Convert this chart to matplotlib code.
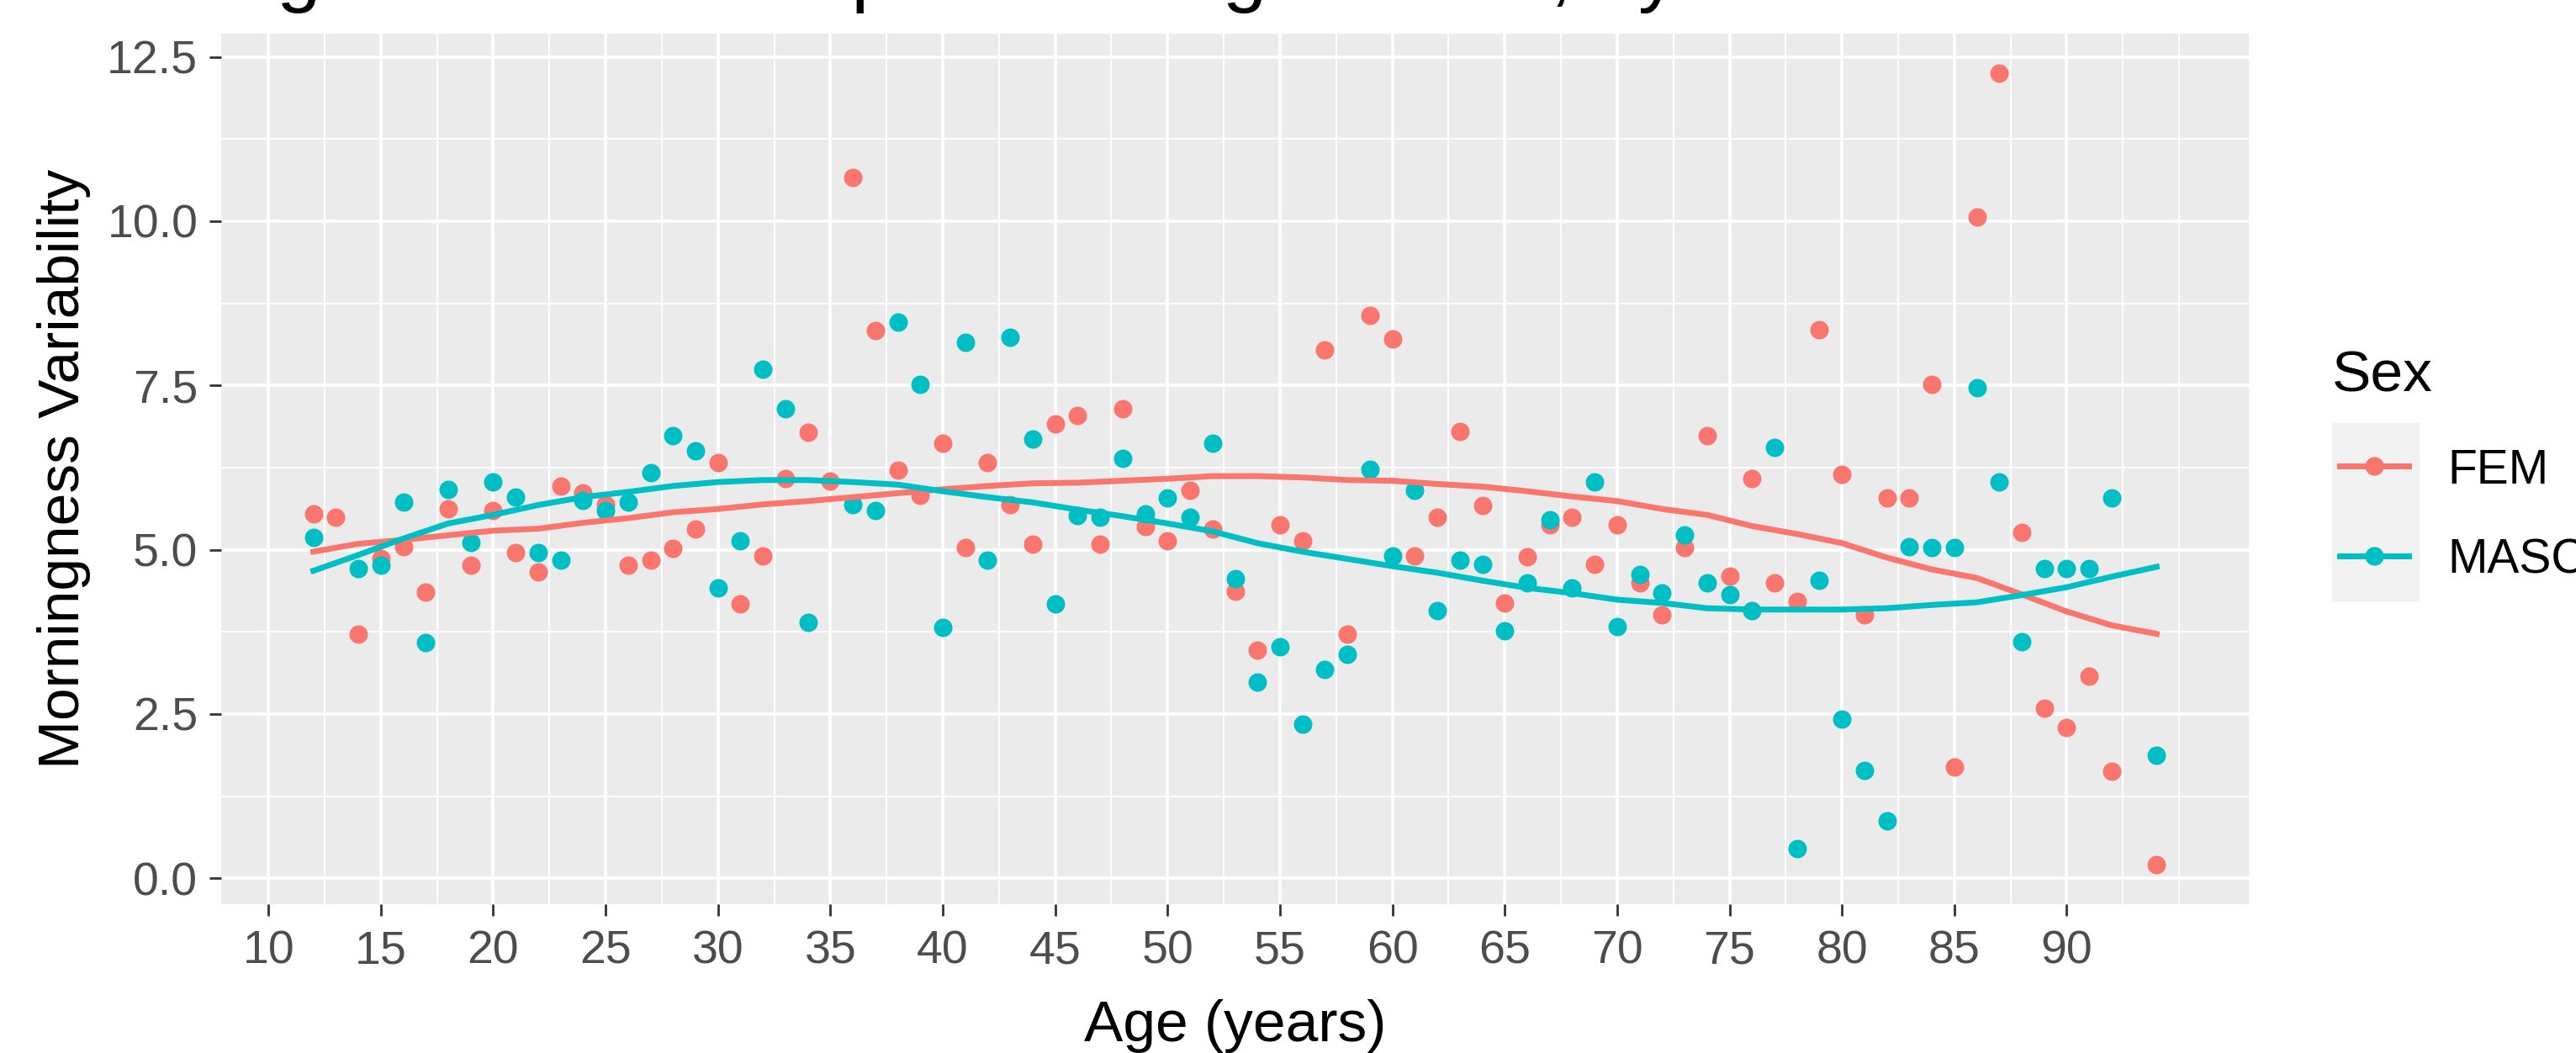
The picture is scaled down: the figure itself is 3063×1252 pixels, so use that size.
import numpy as np
import matplotlib
matplotlib.use('Agg')
import matplotlib.pyplot as plt
from matplotlib.lines import Line2D
from matplotlib.patches import Rectangle

plt.rcParams['font.family'] = ['Liberation Sans', 'DejaVu Sans']

# Mean morningness variability per age
fem_age = [12, 13, 14, 15, 16, 17, 18, 19, 20, 21, 22, 23, 24, 25, 26, 27, 28,
           29, 30, 31, 32, 33, 34, 35, 36, 37, 38, 39, 40, 41, 42, 43, 44, 45,
           46, 47, 48, 49, 50, 51, 52, 53, 54, 55, 56, 57, 58, 59, 60, 61, 62,
           63, 64, 65, 66, 67, 68, 69, 70, 71, 72, 73, 74, 75, 76, 77, 78, 79,
           80, 81, 82, 83, 84, 85, 86, 87, 88, 89, 90, 91, 92, 94]
fem_val = [5.55, 5.49, 3.71, 4.87, 5.04, 4.36, 5.62, 4.77, 5.60, 4.96, 4.66,
           5.97, 5.87, 5.68, 4.77, 4.84, 5.02, 5.31, 6.32, 4.18, 4.90, 6.08,
           6.79, 6.04, 10.66, 8.34, 6.21, 5.83, 6.62, 5.03, 6.32, 5.68, 5.08,
           6.91, 7.04, 5.08, 7.15, 5.35, 5.14, 5.91, 5.31, 4.37, 3.47, 5.38,
           5.14, 8.04, 3.71, 8.57, 8.21, 4.90, 5.49, 6.80, 5.67, 4.19, 4.89,
           5.38, 5.49, 4.78, 5.38, 4.49, 4.01, 5.03, 6.74, 4.60, 6.08, 4.49,
           4.22, 8.35, 6.15, 4.01, 5.79, 5.79, 7.52, 1.69, 10.06, 12.25, 5.27,
           2.59, 2.29, 3.07, 1.63, 0.21]

masc_age = [12, 14, 15, 16, 17, 18, 19, 20, 21, 22, 23, 24, 25, 26, 27, 28, 29,
            30, 31, 32, 33, 34, 36, 37, 38, 39, 40, 41, 42, 43, 44, 45, 46, 47,
            48, 49, 50, 51, 52, 53, 54, 55, 56, 57, 58, 59, 60, 61, 62, 63, 64,
            65, 66, 67, 68, 69, 70, 71, 72, 73, 74, 75, 76, 77, 78, 79, 80, 81,
            82, 83, 84, 85, 86, 87, 88, 89, 90, 91, 92, 94]
masc_val = [5.19, 4.72, 4.77, 5.73, 3.59, 5.92, 5.11, 6.03, 5.80, 4.96, 4.84,
            5.75, 5.60, 5.73, 6.17, 6.74, 6.50, 4.42, 5.13, 7.75, 7.15, 3.89,
            5.68, 5.60, 8.46, 7.51, 3.82, 8.16, 4.84, 8.23, 6.69, 4.18, 5.52,
            5.49, 6.39, 5.55, 5.79, 5.50, 6.62, 4.56, 2.99, 3.53, 2.35, 3.18,
            3.41, 6.23, 4.90, 5.90, 4.07, 4.84, 4.78, 3.77, 4.50, 5.45, 4.42,
            6.03, 3.83, 4.63, 4.34, 5.22, 4.49, 4.32, 4.08, 6.56, 0.45, 4.54,
            2.42, 1.64, 0.88, 5.04, 5.03, 5.03, 7.46, 6.03, 3.60, 4.72, 4.72,
            4.72, 5.79, 1.87]

# smoothed trend lines (loess from the original chart), read every 2 years
smooth_age = [12, 14, 16, 18, 20, 22, 24, 26, 28, 30, 32, 34, 36, 38, 40, 42,
              44, 46, 48, 50, 52, 54, 56, 58, 60, 62, 64, 66, 68, 70, 72, 74,
              76, 78, 80, 82, 84, 86, 88, 90, 92, 94]
fem_smooth = [4.97, 5.09, 5.15, 5.22, 5.29, 5.32, 5.41, 5.48, 5.57, 5.62, 5.69,
              5.74, 5.80, 5.86, 5.92, 5.97, 6.01, 6.02, 6.05, 6.08, 6.12, 6.12,
              6.10, 6.06, 6.05, 6.00, 5.96, 5.89, 5.81, 5.74, 5.62, 5.53, 5.36,
              5.24, 5.10, 4.88, 4.70, 4.57, 4.32, 4.06, 3.85, 3.72]
masc_smooth = [4.68, 4.92, 5.17, 5.40, 5.53, 5.68, 5.80, 5.88, 5.97, 6.03, 6.06,
               6.06, 6.03, 5.99, 5.89, 5.80, 5.72, 5.61, 5.51, 5.40, 5.28, 5.10,
               4.97, 4.86, 4.75, 4.65, 4.53, 4.42, 4.34, 4.24, 4.19, 4.11, 4.09,
               4.09, 4.09, 4.11, 4.16, 4.20, 4.31, 4.43, 4.59, 4.74]

groups = ['FEM', 'MASC']
colors = {'FEM': '#F8766D', 'MASC': '#00BFC4'}
data = {'FEM': (fem_age, fem_val, fem_smooth),
        'MASC': (masc_age, masc_val, masc_smooth)}

x_breaks = list(range(10, 95, 5))
y_breaks = [0.0, 2.5, 5.0, 7.5, 10.0, 12.5]

title = 'Age and Sex comparison of gradients, by Sex'
xlabel = 'Age (years)'
ylabel = 'Morningness Variability'
legend_title = 'Sex'

W, H = 3063, 1252
fig = plt.figure(figsize=(W / 100, H / 100), dpi=100)
ax = fig.add_axes([263 / W, 1 - 1075 / H, (2674 - 263) / W, (1075 - 40) / H])
ax.set_facecolor('#EBEBEB')
for s in ax.spines.values():
    s.set_visible(False)

for g in groups:
    a, v, sm = data[g]
    ax.scatter(a, v, s=250, color=colors[g], linewidths=0, zorder=3)
    ax.plot(smooth_age, sm, color=colors[g], lw=5, zorder=4)

# ggplot-like 5% expansion of the data range
all_age = fem_age + masc_age
all_val = fem_val + masc_val
xr = max(all_age) - min(all_age)
yr = max(all_val) - min(all_val)
ax.set_xlim(min(all_age) - 0.05 * xr, max(all_age) + 0.05 * xr)
ax.set_ylim(min(all_val) - 0.05 * yr, max(all_val) + 0.05 * yr)

ax.set_xticks(x_breaks)
ax.set_xticks([b + 2.5 for b in x_breaks[:-1]] + [92.5, 95], minor=True)
ax.set_yticks(y_breaks)
ax.set_yticklabels(['%.1f' % b for b in y_breaks])
ax.set_yticks([b + 1.25 for b in y_breaks[:-1]], minor=True)
ax.grid(which='major', color='white', lw=2.6)
ax.grid(which='minor', color='white', lw=1.3)
ax.set_axisbelow(True)
ax.tick_params(which='major', length=10, width=2, color='#333333',
               labelcolor='#4D4D4D', labelsize=40)
ax.tick_params(axis='x', pad=12)
ax.tick_params(axis='y', pad=10)
ax.tick_params(which='minor', length=0)

ax.set_xlabel(xlabel, fontsize=50, labelpad=22)
ax.set_ylabel(ylabel, fontsize=50, labelpad=14)

# title sits mostly above the top edge, as in the original
fig.text(266 / W, 1 + 4 / H, title, fontsize=68, ha='left', va='baseline')


# legend drawn by hand in pixel positions
def fx(px):
    return px / W


def fy(py):
    return 1 - py / H


fig.text(fx(2773), fy(440), legend_title, fontsize=50, ha='left',
         va='center_baseline')
fig.patches.append(Rectangle((fx(2773), fy(716)), fx(2877 - 2773),
                             (716 - 503) / H, transform=fig.transFigure,
                             facecolor='#F2F2F2', edgecolor='none'))
for g, py in zip(groups, [554, 661]):
    fig.lines.append(Line2D([fx(2782), fx(2864)], [fy(py), fy(py)],
                            transform=fig.transFigure, color=colors[g], lw=5))
    fig.lines.append(Line2D([fx(2823)], [fy(py)], transform=fig.transFigure,
                            marker='o', markersize=16, color=colors[g],
                            markeredgewidth=0))
    fig.text(fx(2910), fy(py), g, fontsize=41, ha='left',
             va='center_baseline')

fig.savefig('out.png', dpi=100)
